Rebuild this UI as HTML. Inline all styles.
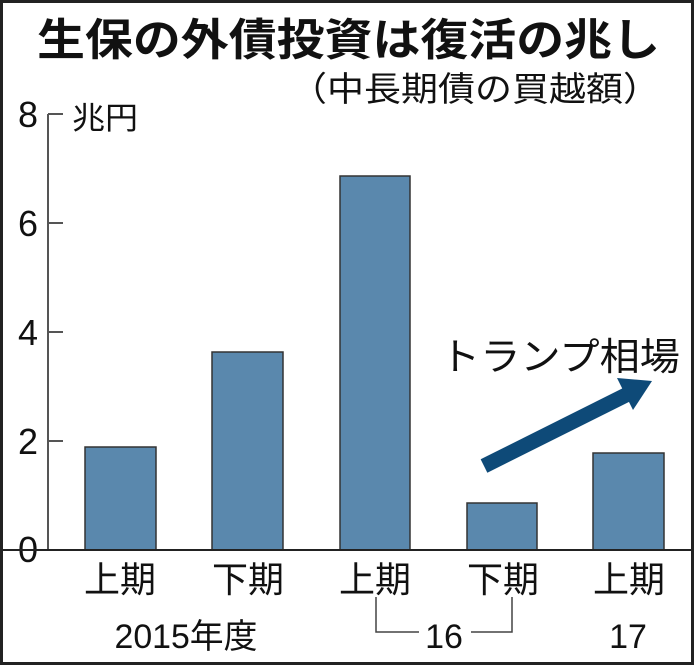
<!DOCTYPE html><html><head><meta charset="utf-8"><style>body{margin:0;background:#fff}svg{display:block}text{font-family:"Liberation Sans","Noto Sans CJK JP",sans-serif;fill:#111}</style></head><body>
<svg width="696" height="667" viewBox="0 0 696 667">
<rect x="1.5" y="1.5" width="691" height="662" fill="#fff" stroke="#222" stroke-width="3"/>
<text x="37" y="55" font-size="44" font-weight="bold" textLength="623" lengthAdjust="spacingAndGlyphs">生保の外債投資は復活の兆し</text>
<text x="290" y="101" font-size="34" textLength="370" lengthAdjust="spacingAndGlyphs">（中長期債の買越額）</text>
<g stroke="#555" stroke-width="2"><line x1="48" y1="114" x2="48" y2="550"/>
<line x1="48" y1="114" x2="63" y2="114"/><line x1="48" y1="223" x2="63" y2="223"/><line x1="48" y1="332" x2="63" y2="332"/><line x1="48" y1="441" x2="63" y2="441"/></g>
<g font-size="36" text-anchor="middle"><text x="28" y="127">8</text><text x="28" y="236">6</text><text x="28" y="345">4</text><text x="28" y="454">2</text><text x="28" y="562">0</text></g>
<text x="72" y="129" font-size="31" textLength="66" lengthAdjust="spacingAndGlyphs">兆円</text>
<g fill="#5a88ad" stroke="#333" stroke-width="1.5">
<rect x="85" y="447" width="71" height="103"/><rect x="212" y="352" width="71" height="198"/><rect x="340" y="176" width="70" height="374"/><rect x="467" y="503" width="70" height="47"/><rect x="593" y="453" width="71" height="97"/></g>
<line x1="0" y1="550" x2="692" y2="550" stroke="#222" stroke-width="2"/>
<g font-size="36" text-anchor="middle"><text x="120" y="592">上期</text><text x="248" y="592">下期</text><text x="375" y="592">上期</text><text x="503" y="592">下期</text><text x="629" y="592">上期</text></g>
<g font-size="34" text-anchor="middle"><text x="186" y="648" textLength="143" lengthAdjust="spacingAndGlyphs">2015年度</text><text x="444" y="648">16</text><text x="628" y="648">17</text></g>
<polyline points="376,597 376,632 419,632" fill="none" stroke="#444" stroke-width="1.5"/>
<polyline points="471,632 512,632 512,597" fill="none" stroke="#444" stroke-width="1.5"/>
<text x="440" y="370" font-size="38" textLength="240" lengthAdjust="spacingAndGlyphs">トランプ相場</text>
<line x1="484" y1="466" x2="630" y2="393" stroke="#0e4a78" stroke-width="15"/>
<polygon points="652,381 617,378 633,410" fill="#0e4a78"/>
</svg></body></html>
